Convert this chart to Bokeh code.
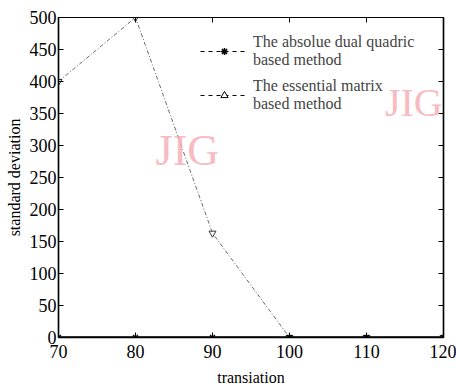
from bokeh.plotting import figure
from bokeh.models import Legend, LegendItem, Range1d, FixedTicker, LinearAxis, Label
from bokeh.embed import file_html
from bokeh.resources import INLINE

translation = [70, 80, 90, 100, 110, 120]
dual_quadric = [0, 0, 0, 0, 0, 0]
essential_matrix = [400, 500, 163, 0, 0, 0]
x_ticks = [70, 80, 90, 100, 110, 120]
y_ticks = [0, 50, 100, 150, 200, 250, 300, 350, 400, 450, 500]

FONT = "Liberation Serif"
NAN = float("nan")

p = figure(width=456, height=388, output_backend="svg", toolbar_location=None,
           x_range=Range1d(70, 120), y_range=Range1d(0, 500),
           min_border_left=58, min_border_right=13, min_border_top=17, min_border_bottom=50)
p.grid.visible = False
p.outline_line_color = "black"
p.outline_line_width = 1.2
p.background_fill_color = "white"
p.border_fill_color = "white"

for ax in [p.xaxis[0], p.yaxis[0]]:
    ax.major_label_text_font = FONT
    ax.major_label_text_font_size = "18px"
    ax.major_label_text_color = "black"
    ax.axis_label_text_font = FONT
    ax.axis_label_text_font_size = "16px"
    ax.axis_label_text_font_style = "normal"
    ax.axis_label_text_color = "black"
    ax.major_tick_in = 5
    ax.major_tick_out = 0
    ax.minor_tick_line_color = None
    ax.axis_line_color = "black"
    ax.axis_line_width = 1.5
p.xaxis[0].ticker = FixedTicker(ticks=x_ticks)
p.yaxis[0].ticker = FixedTicker(ticks=y_ticks)
p.xaxis[0].major_label_standoff = 7
p.yaxis[0].major_label_standoff = 2
p.xaxis[0].axis_label = "transiation"
p.yaxis[0].axis_label = "standard deviation"
p.xaxis[0].axis_label_standoff = 8
p.yaxis[0].axis_label_standoff = 4

top = LinearAxis(ticker=FixedTicker(ticks=x_ticks),
                 major_label_overrides={t: "" for t in x_ticks},
                 major_tick_in=5, major_tick_out=0, minor_tick_line_color=None)
right = LinearAxis(ticker=FixedTicker(ticks=y_ticks),
                   major_label_overrides={t: "" for t in y_ticks},
                   major_tick_in=5, major_tick_out=0, minor_tick_line_color=None,
                   axis_line_width=1.5)
p.add_layout(top, "above")
p.add_layout(right, "right")

# watermarks
p.add_layout(Label(x=82.6, y=254, text="JIG", text_font=FONT, text_font_size="44px",
                   text_color="#f7a8b0", text_alpha=0.8))
p.add_layout(Label(x=112.4, y=332, text="JIG", text_font=FONT, text_font_size="40px",
                   text_color="#f7a8b0", text_alpha=0.8))

l1 = p.line(translation, essential_matrix, line_color="#444444", line_width=0.8, line_dash="4 2 1 2")
m1 = p.scatter(translation, essential_matrix, marker="inverted_triangle", size=7,
               line_color="#333333", fill_color="white", line_width=1)
l2 = p.line(translation, dual_quadric, line_color="black", line_width=2.5)
m2 = p.scatter(translation, dual_quadric, marker="asterisk", size=7, line_color="black", line_width=1.2)

# legend proxies
lg1 = p.line([NAN, NAN], [NAN, NAN], line_color="black", line_width=1, line_dash="4 4")
ls1 = p.scatter([NAN], [NAN], marker="asterisk", size=12, line_color="black", line_width=1.5)
lg2 = p.line([NAN, NAN], [NAN, NAN], line_color="black", line_width=1, line_dash="4 4")
ls2 = p.scatter([NAN], [NAN], marker="triangle", size=14, line_color="black", fill_color="white", line_width=1)

legend = Legend(items=[
    LegendItem(label="The absolue dual quadric\nbased method", renderers=[lg1, ls1]),
    LegendItem(label="The essential matrix\nbased method", renderers=[lg2, ls2]),
], location=(142, 224), border_line_color=None, background_fill_alpha=0,
    label_text_font=FONT, label_text_font_size="16px", label_text_line_height=1.1,
    glyph_width=48, glyph_height=18, spacing=8, padding=2, label_standoff=5, margin=0)
p.add_layout(legend, "center")

open("out.html", "w").write(file_html(p, INLINE))
